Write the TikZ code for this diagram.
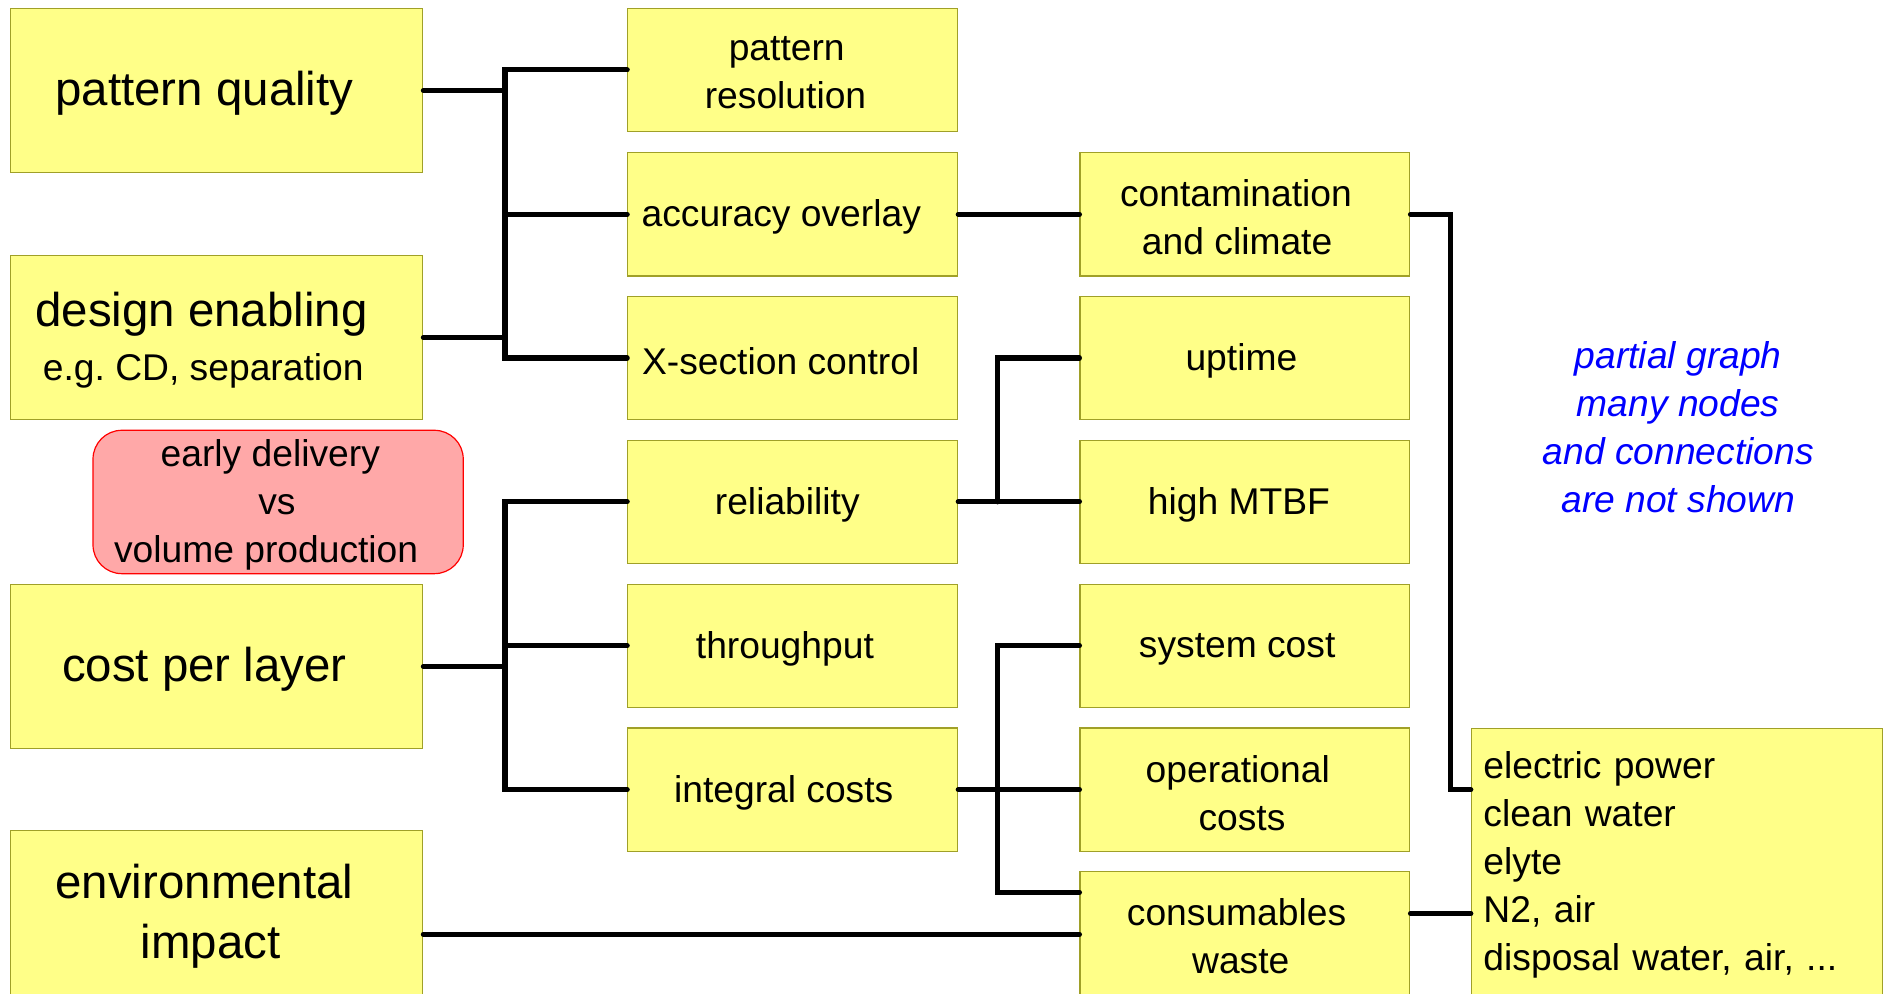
\documentclass[tikz,border=0pt]{standalone}
\usepackage{fontspec}
\setmainfont{Liberation Sans}
\frenchspacing
\definecolor{boxfill}{RGB}{255,255,136}
\definecolor{boxline}{RGB}{160,160,40}
\definecolor{pinkfill}{RGB}{255,168,168}
\definecolor{noteblue}{RGB}{0,0,255}
\newcommand{\bigtxt}{\fontsize{39.5}{50}\selectfont}
\newcommand{\midtxt}{\fontsize{31}{40}\selectfont}
% a text line with extra trailing space (shifts it left when centred), drawn slightly lower
\newcommand{\ls}[2]{\raisebox{-2.6pt}[\height][\depth]{#1\kern#2pt}}
\tikzset{
  ybox/.style={draw=boxline, fill=boxfill, line width=1pt, inner sep=0pt, align=center},
  leftbox/.style={ybox, minimum width=343.5pt, minimum height=136.5pt, font=\bigtxt},
  midbox/.style={ybox, minimum width=274.6pt, minimum height=102.7pt, font=\midtxt},
  pinkbox/.style={draw=red, fill=pinkfill, line width=1pt, rounded corners=24pt, inner sep=0pt,
     minimum width=308.3pt, minimum height=119.4pt, align=center, font=\midtxt},
  conn/.style={line width=4.2pt, line cap=round, line join=miter, black}
}
\begin{document}
\begin{tikzpicture}[x=1pt, y=-1pt]
\clip (0,0) rectangle (1568,827.7);
\fill[white] (0,0) rectangle (1568,827.7);

% left column
\node[leftbox] (pq)  at (180.25,75.25) {\ls{pattern quality}{20}};
\node[leftbox] (de)  at (180.25,281) {\ls{design enabling}{25}\\[-5pt]\midtxt\ls{e.g.\ CD, separation}{22}};
\node[pinkbox] (edv) at (231.6,418) {\ls{early delivery}{13}\\\ls{vs}{2}\\\ls{volume production}{20}};
\node[leftbox] (cpl) at (180.25,555) {\ls{cost per layer}{20}};
\node[leftbox] (env) at (180.25,760) {\ls{environmental}{20}\\\ls{impact}{10}};

% second column
\node[midbox] (pres) at (660.1,58.25) {\ls{pattern}{10}\\\ls{resolution}{12}};
\node[midbox] (acc)  at (660.1,178.4) {\ls{accuracy overlay}{19}};
\node[midbox] (xsec) at (660.1,298.1) {\ls{X-section control}{20}};
\node[midbox] (rel)  at (660.1,417.9) {\ls{reliability}{9}};
\node[midbox] (thr)  at (660.1,537.8) {\ls{throughput}{13}};
\node[midbox] (int)  at (660.1,657.6) {\ls{integral costs}{15}};

% third column
\node[midbox] (cc)   at (1036.7,178.4) {\ls{contamination}{15}\\\ls{and climate}{13}};
\node[midbox] (up)   at (1036.7,298.1) {\ls{uptime}{6}};
\node[midbox] (hm)   at (1036.7,417.9) {\ls{high MTBF}{10}};
\node[midbox] (sc)   at (1036.7,537.8) {\ls{system cost}{13}};
\node[midbox] (op)   at (1036.7,657.6) {\ls{operational}{12}\\\ls{costs}{5}};
\node[midbox] (cons) at (1036.7,777.3) {\ls{consumables}{14}\\\ls{waste}{7}};

% right box
\node[ybox, minimum width=342.2pt, minimum height=222pt, text width=322.2pt, inner xsep=10pt,
      align=left, font=\midtxt] (rb) at (1396.4,717.4)
  {\ls{electric power}{0}\\\ls{clean water}{0}\\\ls{elyte}{0}\\\ls{N2, air}{0}\\\ls{disposal water, air, ...}{0}};

% note
\node[align=center, text=noteblue, font=\midtxt\itshape] (note) at (1397.5,355.5)
  {partial graph\\many nodes\\and connections\\are not shown};

% bus coordinates
\coordinate (b1) at (420.5,0);
\coordinate (b3) at (831,0);
\coordinate (b5) at (1207.6,0);
\coordinate (consin) at ([yshift=34.3pt]cons.west);
\coordinate (envout) at ([yshift=-18pt]env.east);
\coordinate (consout) at ([yshift=16.7pt]cons.east);
\coordinate (rbin) at ([yshift=59.8pt]rb.west);

% connectors: top group
\draw[conn] (pres.west) -| (b1 |- xsec.west) -- (xsec.west);
\draw[conn] (acc.west) -- (acc.west -| b1);
\draw[conn] (pq.east) -- (pq.east -| b1);
\draw[conn] (de.east) -- (de.east -| b1);

% cost group
\draw[conn] (rel.west) -| (b1 |- int.west) -- (int.west);
\draw[conn] (thr.west) -- (thr.west -| b1);
\draw[conn] (cpl.east) -- (cpl.east -| b1);

% third level
\draw[conn] (acc.east) -- (cc.west);
\draw[conn] (rel.east) -- (hm.west);
\draw[conn] (up.west) -| (b3 |- hm.west);
\draw[conn] (int.east) -- (op.west);
\draw[conn] (sc.west) -| (b3 |- consin) -- (consin);
\draw[conn] (envout) -- (envout -| cons.west);
\draw[conn] (consout) -- (consout -| rb.west);
\draw[conn] (cc.east) -| (b5 |- rbin) -- (rbin);
\end{tikzpicture}
\end{document}
